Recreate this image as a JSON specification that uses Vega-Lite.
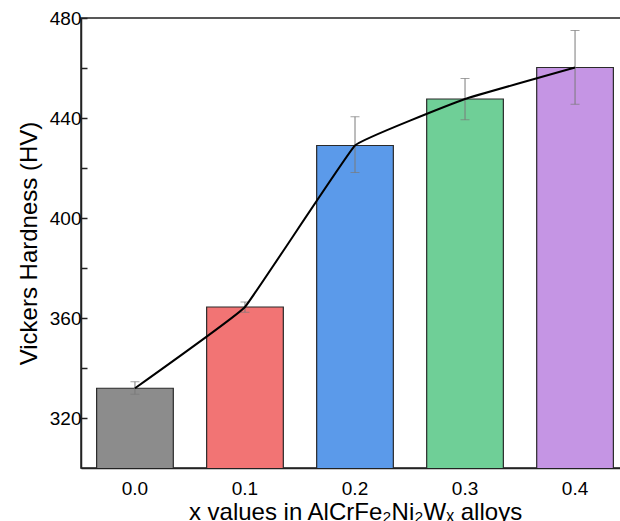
{
  "$schema": "https://vega.github.io/schema/vega-lite/v6.json",
  "width": 548,
  "height": 450,
  "autosize": {"type": "none"},
  "padding": {"left": 81, "top": 18, "right": 0, "bottom": 53},
  "background": "white",
  "data": {
    "values": [
      {"x": "0.0", "hv": 331.9, "lo": 329.5, "hi": 334.5},
      {"x": "0.1", "hv": 364.4, "lo": 362.3, "hi": 366.4},
      {"x": "0.2", "hv": 429.0, "lo": 418.2, "hi": 440.5},
      {"x": "0.3", "hv": 447.6, "lo": 439.3, "hi": 455.8},
      {"x": "0.4", "hv": 460.2, "lo": 445.5, "hi": 475.0}
    ]
  },
  "encoding": {
    "x": {
      "field": "x",
      "type": "nominal",
      "sort": null,
      "scale": {"paddingInner": 0.303, "paddingOuter": 0.142},
      "axis": {
        "title": "x values in AlCrFe₂Ni₂Wₓ alloys",
        "labelAngle": 0,
        "ticks": false,
        "labelPadding": 11,
        "labelFontSize": 19,
        "titleFontSize": 24,
        "titlePadding": 2
      }
    }
  },
  "layer": [
    {
      "mark": {"type": "bar", "stroke": "#2a2a2a", "strokeWidth": 1.2, "clip": true},
      "encoding": {
        "y": {
          "field": "hv",
          "type": "quantitative",
          "title": "Vickers Hardness (HV)",
          "scale": {"domain": [300, 480], "nice": false, "zero": false},
          "axis": {
            "values": [320, 340, 360, 380, 400, 420, 440, 460, 480],
            "labelExpr": "datum.value % 40 === 0 ? datum.label : ''",
            "tickSize": -6,
            "labelPadding": 6,
            "labelFontSize": 19,
            "titleFontSize": 24,
            "titlePadding": 8,
            "grid": false
          }
        },
        "color": {
          "field": "x",
          "type": "nominal",
          "legend": null,
          "scale": {"range": ["#8c8c8c", "#f27474", "#5b9aea", "#6fcf97", "#c595e4"]}
        }
      }
    },
    {
      "mark": {"type": "errorbar", "ticks": {"size": 9, "color": "#7a7a7a"}, "rule": {"color": "#7a7a7a", "strokeWidth": 1}},
      "encoding": {
        "y": {"field": "lo", "type": "quantitative", "title": "Vickers Hardness (HV)"},
        "y2": {"field": "hi"}
      }
    },
    {
      "mark": {"type": "line", "color": "#000000", "strokeWidth": 2, "interpolate": "cardinal", "tension": 0.8},
      "encoding": {
        "y": {"field": "hv", "type": "quantitative", "title": "Vickers Hardness (HV)"}
      }
    }
  ],
  "config": {
    "font": "Liberation Sans",
    "view": {"stroke": "#222222", "strokeWidth": 1.5},
    "axis": {
      "domainColor": "#222222",
      "domainWidth": 1.5,
      "tickColor": "#222222",
      "tickWidth": 1.5,
      "labelColor": "#000000",
      "titleColor": "#000000",
      "labelFont": "Liberation Sans",
      "titleFont": "Liberation Sans",
      "titleFontWeight": "normal"
    }
  }
}
